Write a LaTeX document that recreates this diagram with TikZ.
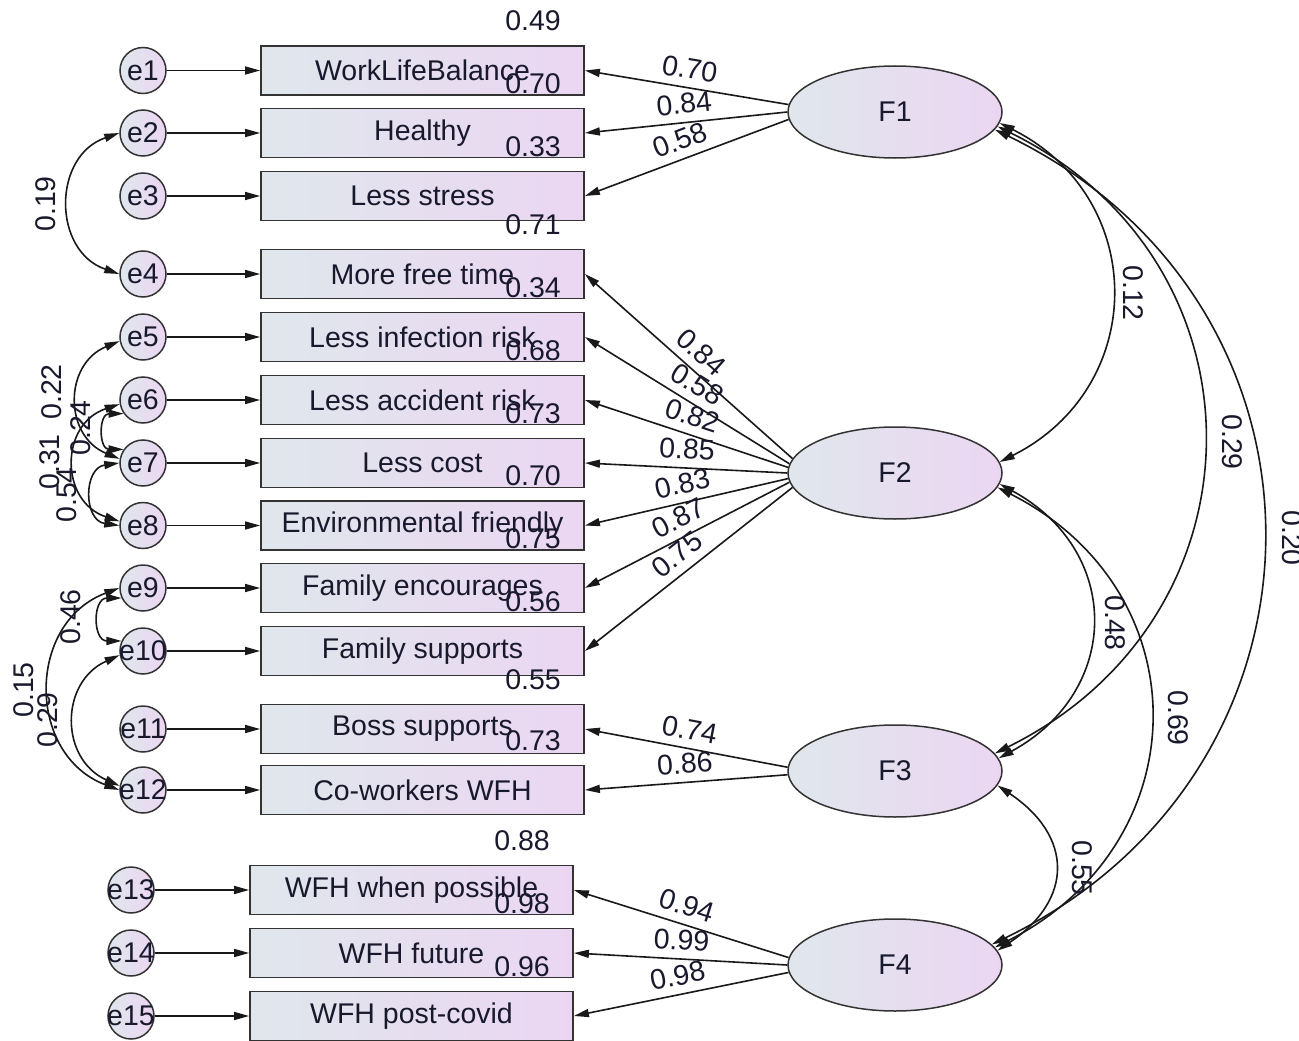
\documentclass[tikz,border=0pt]{standalone}
\usepackage{fontspec}
\setmainfont{Liberation Sans}
\usetikzlibrary{shapes.geometric, arrows.meta}

\definecolor{amosleft}{RGB}{224,231,236}
\definecolor{amosright}{RGB}{235,214,242}
\definecolor{amostext}{RGB}{25,25,45}

\tikzset{
    >={Triangle[length=15pt, width=8pt]},
    every node/.style={font=\fontsize{28.5}{34}\selectfont, text=amostext},
    obs/.style={draw=black!80, line width=1.8pt, left color=amosleft, right color=amosright, minimum width=323pt, minimum height=49pt, inner sep=0pt},
    err/.style={circle, draw=black!80, line width=1.5pt, left color=amosleft, right color=amosright, minimum size=46pt, inner sep=-4pt},
    lat/.style={ellipse, draw=black!80, line width=1.5pt, left color=amosleft, right color=amosright, minimum width=214pt, minimum height=92pt, inner sep=0pt},
    reg/.style={->, line width=1.6pt, black!90},
    cov/.style={<->, line width=1.6pt, black!90},
    ld/.style={sloped, above, midway, inner sep=8pt},
    smc/.style={inner sep=0pt},
    cor/.style={inner sep=0pt}
}

\begin{document}
\begin{tikzpicture}[x=1pt, y=-1pt]
    \useasboundingbox (0, 0) rectangle (1299, 1041);

    \node [err] (e1) at (143, 70.5) {e1};
    \node [err] (e2) at (143, 133) {e2};
    \node [err] (e3) at (143, 196) {e3};
    \node [err] (e4) at (143, 274) {e4};
    \node [err] (e5) at (143, 337) {e5};
    \node [err] (e6) at (143, 400) {e6};
    \node [err] (e7) at (143, 463) {e7};
    \node [err] (e8) at (143, 525.5) {e8};
    \node [err] (e9) at (143, 588) {e9};
    \node [err] (e10) at (143, 651) {e10};
    \node [err] (e11) at (143, 729) {e11};
    \node [err] (e12) at (143, 790) {e12};
    \node [err] (e13) at (131, 890) {e13};
    \node [err] (e14) at (131, 953) {e14};
    \node [err] (e15) at (131, 1016) {e15};

    \node [obs] (b1) at (422.5, 70.5) {WorkLifeBalance};
    \node [obs] (b2) at (422.5, 133) {Healthy};
    \node [obs] (b3) at (422.5, 196) {Less stress};
    \node [obs] (b4) at (422.5, 274) {More free time};
    \node [obs] (b5) at (422.5, 337) {Less infection risk};
    \node [obs] (b6) at (422.5, 400) {Less accident risk};
    \node [obs] (b7) at (422.5, 463) {Less cost};
    \node [obs] (b8) at (422.5, 525.5) {Environmental friendly};
    \node [obs] (b9) at (422.5, 588) {Family encourages};
    \node [obs] (b10) at (422.5, 651) {Family supports};
    \node [obs] (b11) at (422.5, 729) {Boss supports};
    \node [obs] (b12) at (422.5, 790) {Co-workers WFH};
    \node [obs] (b13) at (411.5, 890) {WFH when possible};
    \node [obs] (b14) at (411.5, 953) {WFH future};
    \node [obs] (b15) at (411.5, 1016) {WFH post-covid};

    \node [lat] (F1) at (895, 112) {F1};
    \node [lat] (F2) at (895, 473) {F2};
    \node [lat] (F3) at (895, 771) {F3};
    \node [lat] (F4) at (895, 965) {F4};

    \draw [reg] (e1) -- (b1);
    \draw [reg] (e2) -- (b2);
    \draw [reg] (e3) -- (b3);
    \draw [reg] (e4) -- (b4);
    \draw [reg] (e5) -- (b5);
    \draw [reg] (e6) -- (b6);
    \draw [reg] (e7) -- (b7);
    \draw [reg] (e8) -- (b8);
    \draw [reg] (e9) -- (b9);
    \draw [reg] (e10) -- (b10);
    \draw [reg] (e11) -- (b11);
    \draw [reg] (e12) -- (b12);
    \draw [reg] (e13) -- (b13);
    \draw [reg] (e14) -- (b14);
    \draw [reg] (e15) -- (b15);

    \node [smc] (r1) at (533, 21) {0.49};
    \node [smc] (r2) at (533, 83.5) {0.70};
    \node [smc] (r3) at (533, 146.5) {0.33};
    \node [smc] (r4) at (533, 224.5) {0.71};
    \node [smc] (r5) at (533, 287.5) {0.34};
    \node [smc] (r6) at (533, 350.5) {0.68};
    \node [smc] (r7) at (533, 413.5) {0.73};
    \node [smc] (r8) at (533, 476) {0.70};
    \node [smc] (r9) at (533, 538.5) {0.75};
    \node [smc] (r10) at (533, 601.5) {0.56};
    \node [smc] (r11) at (533, 679.5) {0.55};
    \node [smc] (r12) at (533, 740.5) {0.73};
    \node [smc] (r13) at (522, 840.5) {0.88};
    \node [smc] (r14) at (522, 903.5) {0.98};
    \node [smc] (r15) at (522, 966.5) {0.96};

    \draw [reg, <-] (b1.east) -- node [ld] {0.70} (F1.176);
    \draw [reg, <-] (b2.east) -- node [ld] {0.84} (F1.180);
    \draw [reg, <-] (b3.east) -- node [ld] {0.58} (F1.184);

    \draw [reg, <-] (b4.east) -- node [ld] {0.84} (F2.172);
    \draw [reg, <-] (b5.east) -- node [ld] {0.58} (F2.175);
    \draw [reg, <-] (b6.east) -- node [ld] {0.82} (F2.177);
    \draw [reg, <-] (b7.east) -- node [ld] {0.85} (F2.180);
    \draw [reg, <-] (b8.east) -- node [ld] {0.83} (F2.183);
    \draw [reg, <-] (b9.east) -- node [ld] {0.87} (F2.185);
    \draw [reg, <-] (b10.east) -- node [ld] {0.75} (F2.188);

    \draw [reg, <-] (b11.east) -- node [ld] {0.74} (F3.178);
    \draw [reg, <-] (b12.east) -- node [ld] {0.86} (F3.182);

    \draw [reg, <-] (b13.east) -- node [ld] {0.94} (F4.176);
    \draw [reg, <-] (b14.east) -- node [ld] {0.99} (F4.180);
    \draw [reg, <-] (b15.east) -- node [ld] {0.98} (F4.184);

    \draw [cov] (F1.-6) .. controls +(149, 75) and +(149, -75) .. (F2.6);
    \draw [cov] (F1.-8) .. controls +(276, 136) and +(276, -136) .. (F3.10);
    \draw [cov] (F1.-10) .. controls +(359, 174) and +(359, -174) .. (F4.12);
    \draw [cov] (F2.-6) .. controls +(123, 67) and +(123, -67) .. (F3.7);
    \draw [cov] (F2.-8) .. controls +(205, 104) and +(205, -104) .. (F4.10);
    \draw [cov] (F3.-8) .. controls +(76, 51) and +(76, -51) .. (F4.8);

    \node [cor, rotate=-90] (c12) at (1133, 293) {0.12};
    \node [cor, rotate=-90] (c13) at (1232, 442) {0.29};
    \node [cor, rotate=-90] (c14) at (1292, 538) {0.20};
    \node [cor, rotate=-90] (c23) at (1115, 623) {0.48};
    \node [cor, rotate=-90] (c24) at (1178, 718) {0.69};
    \node [cor, rotate=-90] (c34) at (1082, 868) {0.55};

    \draw [cov] (e2.west) .. controls +(-67, 23) and +(-67, -23) .. (e4.west);
    \draw [cov] (e5.190) .. controls +(-56, 23) and +(-56, -23) .. (e7.170);
    \draw [cov] (e6.190) .. controls +(-60, 20) and +(-60, -20) .. (e8.170);
    \draw [cov] (e6.215) .. controls +(-25, 0) and +(-25, 0) .. (e7.145);
    \draw [cov] (e7.west) .. controls +(-36, 5) and +(-36, -5) .. (e8.west);
    \draw [cov] (e9.205) .. controls +(-29, 0) and +(-29, 0) .. (e10.155);
    \draw [cov] (e9.west) .. controls +(-93, 35) and +(-93, -35) .. (e12.west);
    \draw [cov] (e10.190) .. controls +(-60, 27) and +(-60, -27) .. (e12.170);

    \node [cor, rotate=90] (c2_4) at (46, 204) {0.19};
    \node [cor, rotate=90] (c5_7) at (52, 392) {0.22};
    \node [cor, rotate=90] (c6_8) at (50, 462) {0.31};
    \node [cor, rotate=90] (c6_7) at (81, 428) {0.24};
    \node [cor, rotate=90] (c7_8) at (67, 495) {0.54};
    \node [cor, rotate=90] (c9_10) at (71, 617) {0.46};
    \node [cor, rotate=90] (c9_12) at (24, 690) {0.15};
    \node [cor, rotate=90] (c10_12) at (48, 720) {0.29};
\end{tikzpicture}
\end{document}
